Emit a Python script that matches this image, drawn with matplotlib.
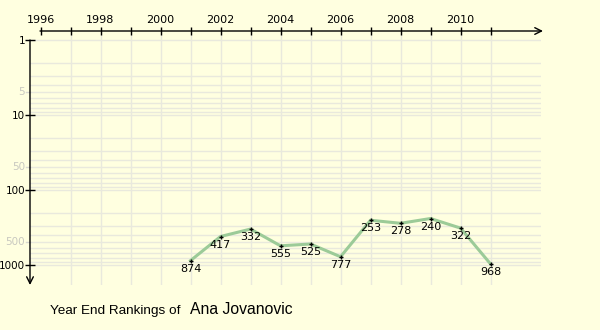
import matplotlib.pyplot as plt
import numpy as np

# year-end rankings
years = [2001, 2002, 2003, 2004, 2005, 2006, 2007, 2008, 2009, 2010, 2011]
ranks = [874, 417, 332, 555, 525, 777, 253, 278, 240, 322, 968]

tick_years = list(range(1996, 2012))
label_years = list(range(1996, 2011, 2))
major_ranks = [1, 10, 100, 1000]
minor_label_ranks = [5, 50, 500]

bg = '#FFFFE0'
grid_c = '#E9E9DD'

fig = plt.figure(figsize=(6, 3.3), dpi=100, facecolor=bg)
W, H = 600, 330
# axes box in pixels: x 30..541, y 31..285
ax = fig.add_axes([30 / W, (H - 285) / H, 511 / W, 254 / H])
ax.set_facecolor(bg)
ax.set_yscale('log')
ax.set_xlim(1995.65, 2012.683)
ax.set_ylim(1848, 0.7586)

for s in ax.spines.values():
    s.set_visible(False)

# grid lines
for d in [1, 10, 100, 1000]:
    for k in range(1, 10):
        v = d * k
        if v > 1000:
            break
        ax.axhline(v, color=grid_c, lw=1, zorder=0)
for yr in tick_years[1:]:
    ax.axvline(yr, color=grid_c, lw=1, zorder=0)

# axes with arrows
ax.annotate('', xy=((543 - 30) / 511, 1.0), xycoords='axes fraction',
            xytext=((40 - 30) / 511, 1.0),
            arrowprops=dict(arrowstyle='->', lw=1, color='black', shrinkA=0, shrinkB=0,
                            mutation_scale=12), annotation_clip=False)
ax.annotate('', xy=(0.0, 0.0), xycoords='axes fraction',
            xytext=(0.0, 1 - (40 - 31) / 254),
            arrowprops=dict(arrowstyle='->', lw=1, color='black', shrinkA=0, shrinkB=0,
                            mutation_scale=12), annotation_clip=False)

# x ticks on top
ax.xaxis.tick_top()
ax.set_xticks(tick_years)
ax.set_xticklabels([str(y) if y in label_years else '' for y in tick_years])
ax.tick_params(axis='x', direction='inout', length=6, width=1, labelsize=8, pad=1)

# y ticks
ax.set_yticks(major_ranks)
ax.set_yticklabels([str(v) for v in major_ranks])
ax.set_yticks([], minor=True)
ax.tick_params(axis='y', which='major', direction='inout', length=7, width=1,
               labelsize=7.5, pad=0)
for v in minor_label_ranks:
    ax.plot([-4 / 511, 0], [v, v], transform=ax.get_yaxis_transform(), color='#D8D8D0',
            lw=1, clip_on=False)
    ax.text(-5 / 511, v, str(v), transform=ax.get_yaxis_transform(), ha='right',
            va='center', fontsize=7.5, color='#C8C8C0')

# ranking line
ax.plot(years, ranks, color='#9CCB98', lw=2.2, solid_joinstyle='round', zorder=3)
ax.plot(years, ranks, '+', color='black', ms=3, mew=1, zorder=4)
for x, r in zip(years, ranks):
    ax.annotate(str(r), (x, r), textcoords='offset pixels', xytext=(0, -3),
                ha='center', va='top', fontsize=8, zorder=5)

fig.text(50 / W, 1 - 314 / H, 'Year End Rankings of', fontsize=9.7,
         family='Liberation Sans', va='baseline')
fig.text(190 / W, 1 - 314 / H, 'Ana Jovanovic', fontsize=11.3,
         family='Liberation Sans', va='baseline')

fig.savefig('out.png', dpi=100, facecolor=bg)
